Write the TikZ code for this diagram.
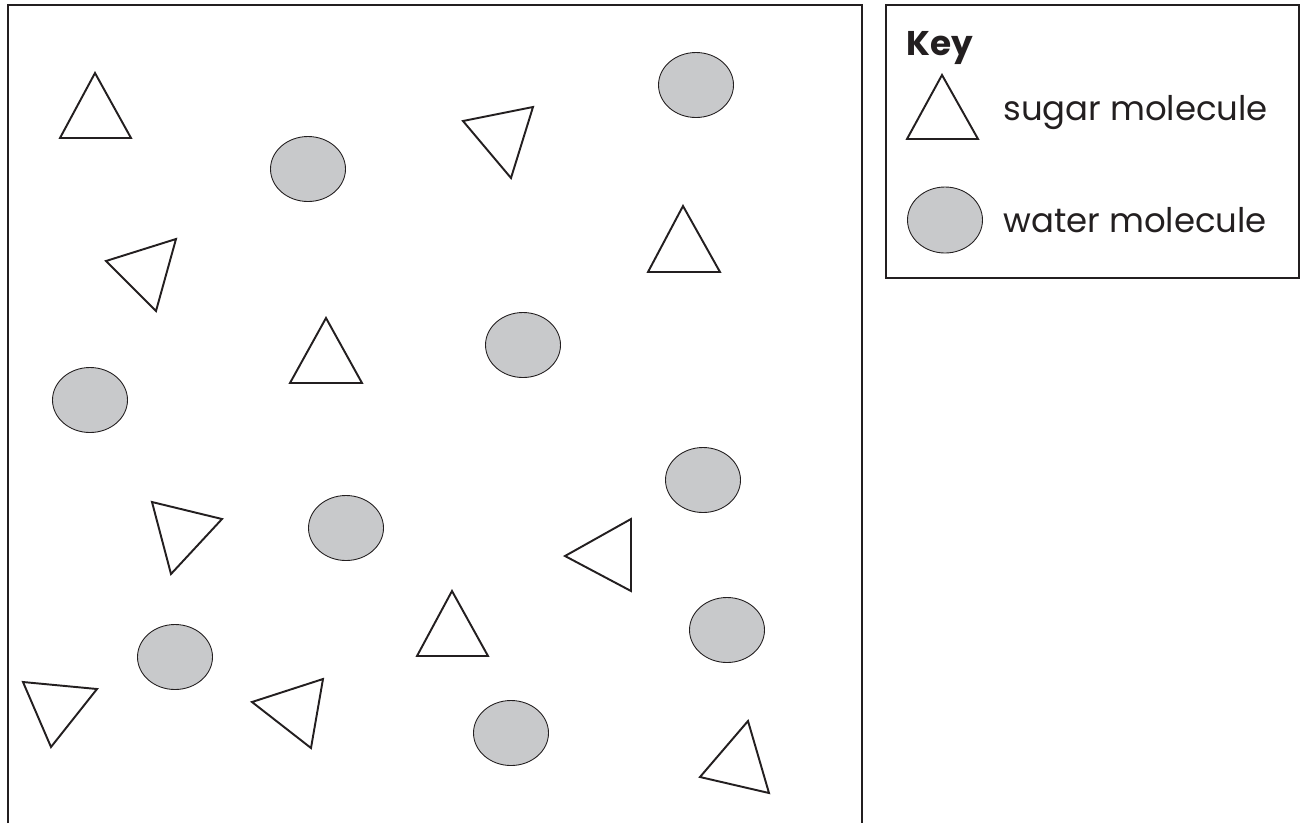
\documentclass[tikz,border=0pt]{standalone}
\usepackage{fontspec}
\setmainfont{Poppins}
\usetikzlibrary{positioning}
\definecolor{inkblack}{RGB}{35,31,32}
\definecolor{watergrey}{RGB}{200,201,203}

\begin{document}
\begin{tikzpicture}[x=0.02cm, y=-0.02cm,
    frame/.style={draw=inkblack, line width=1.1pt},
    sugar/.style={draw=inkblack, line width=1.1pt},
    water/.style={draw=inkblack, line width=0.5pt, fill=watergrey},
    keytext/.style={font=\fontsize{19.3}{21}\selectfont, text=inkblack, inner sep=0pt}]
  \useasboundingbox (0,0) rectangle (1302,823);

  % Container (open at the bottom)
  \draw[frame] (8,823) -- (8,5) -- (862,5) -- (862,823);

  % Water molecules
  \foreach \cx/\cy in {696/85, 308/169, 523/345, 90/400, 703/480,
                       346/528, 727/630, 175/657, 511/733}
    \draw[water] (\cx,\cy) ellipse [x radius=37.5, y radius=32.5];

  % Sugar molecules
  \foreach \ax/\ay/\bx/\by/\cx/\cy in {
      95/73/60/138/131/138,
      463/121/533/107/511/178,
      683/206/648/272/720/272,
      106/261/176/239/156/311,
      326/318/290/383/362/383,
      152/502/222/519/171/574,
      565/556/631/519/631/591,
      452/591/417/656/488/656,
      23/682/97/689/51/747,
      252/702/323/679/311/748,
      748/721/700/777/769/793}
    \draw[sugar] (\ax,\ay) -- (\bx,\by) -- (\cx,\cy) -- cycle;

  % Key
  \draw[frame] (886,5) rectangle (1299,278);
  \node[keytext, font=\fontsize{19.5}{21}\selectfont\bfseries, anchor=base west] (keytitle) at (906,55) {Key};
  \draw[sugar] (942,75) -- (907,139) -- (978,139) -- cycle;
  \node[keytext, anchor=base west] (sugarlabel) at (1003,120) {sugar molecule};
  \draw[water] (945,220) ellipse [x radius=37.5, y radius=33];
  \node[keytext, anchor=base west] (waterlabel) at (1003,232) {water molecule};
\end{tikzpicture}
\end{document}
